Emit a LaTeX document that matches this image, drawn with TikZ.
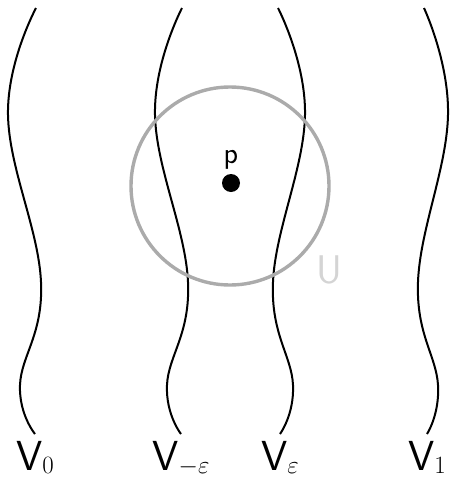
\documentclass[tikz,border=0pt]{standalone}
\usepackage{tikz}
\usetikzlibrary{positioning}
\definecolor{ringgray}{HTML}{ABABAB}
\definecolor{ugray}{HTML}{D4D4D4}
\newcommand{\levsub}[1]{\raisebox{-3pt}{\fontsize{24}{24}\selectfont$#1$}}

\begin{document}
\begin{tikzpicture}[
    x=1pt, y=-1pt,
    wave/.style={line width=2pt, black},
    lab/.style={font=\fontsize{42}{42}\selectfont\sffamily, inner sep=0pt, anchor=base},
  ]
  \useasboundingbox (0,0) rectangle (450,480);
  % the level sets
  \draw[wave] plot[smooth, tension=0.7] coordinates {(36,8) (8,115) (41,282) (20,385) (35,434)};
  \draw[wave] plot[smooth, tension=0.7] coordinates {(182,8) (155,115) (188,282) (167,385) (181,434)};
  \draw[wave] plot[smooth, tension=0.7] coordinates {(278,8) (305,115) (273,282) (293,385) (280,434)};
  \draw[wave] plot[smooth, tension=0.7] coordinates {(424,8) (448,115) (418,282) (438,385) (427,434)};
  \coordinate (v0end) at (35,434);
  \coordinate (vmend) at (181,434);
  \coordinate (vpend) at (280,434);
  \coordinate (v1end) at (427,434);
  % the neighbourhood
  \node[draw=ringgray, line width=3.4pt, circle, minimum size=198pt] (ring) at (230,186) {};
  \node[fill=black, circle, minimum size=18pt, inner sep=0pt] (pt) at (231,183) {};
  \node[font=\fontsize{30}{30}\selectfont\sffamily, above=1pt of pt] (plab) {p};
  \node[lab, text=ugray, font=\fontsize{40}{40}\selectfont\sffamily] (ulab) at (329,283) {U};
  % labels
  \node[lab] (v0lab) at ([yshift=-36pt]v0end) {V\levsub{0}};
  \node[lab] (vmlab) at ([yshift=-36pt]vmend) {V\levsub{-\varepsilon}};
  \node[lab] (vplab) at ([yshift=-36pt]vpend) {V\levsub{\varepsilon}};
  \node[lab] (v1lab) at ([yshift=-36pt]v1end) {V\levsub{1}};
\end{tikzpicture}
\end{document}
